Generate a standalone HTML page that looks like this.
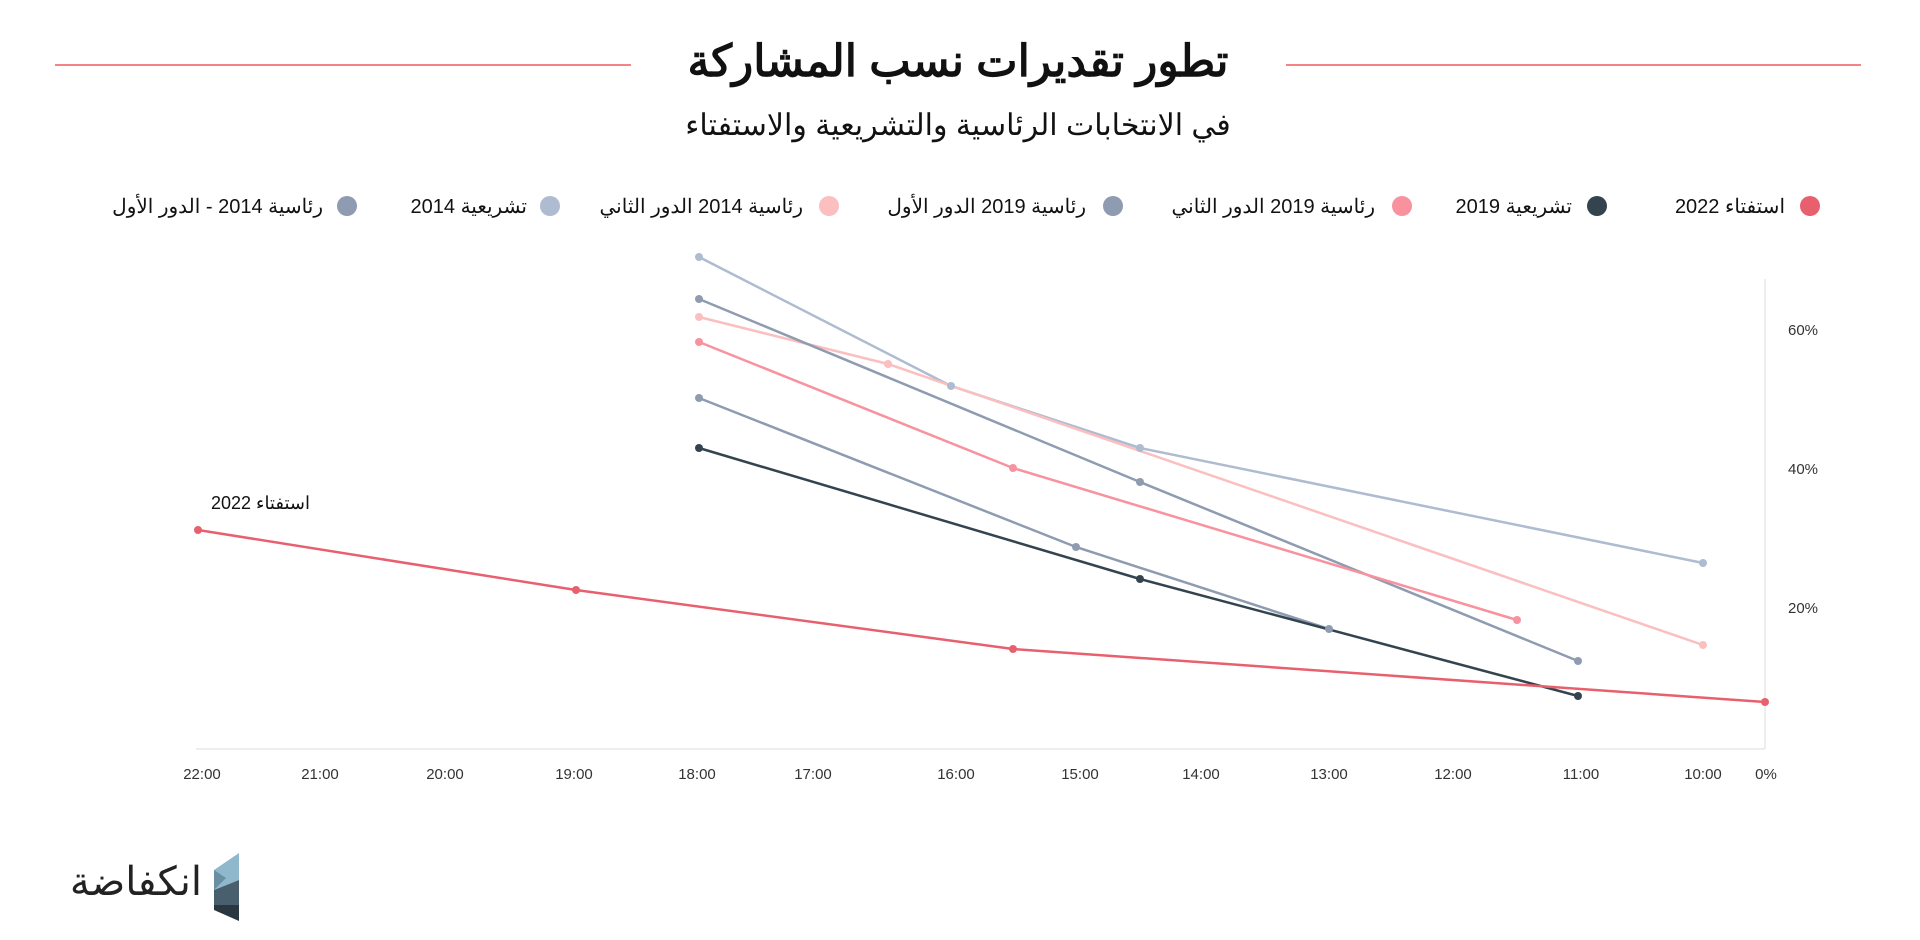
<!DOCTYPE html>
<html><head><meta charset="utf-8"><style>
html,body{margin:0;padding:0;background:#fff;width:1920px;height:940px;overflow:hidden}
svg{display:block}
text{font-family:"Liberation Sans","Noto Sans CJK SC",sans-serif}
</style></head><body>
<svg width="1920" height="940" viewBox="0 0 1920 940" xmlns="http://www.w3.org/2000/svg">
<line x1="55" y1="65" x2="631" y2="65" stroke="#f05a5a" stroke-width="1.5"/>
<line x1="1286" y1="65" x2="1861" y2="65" stroke="#f05a5a" stroke-width="1.5"/>
<text x="958" y="76" text-anchor="middle" font-size="44" font-weight="bold" fill="#111" direction="rtl">تطور تقديرات نسب المشاركة</text>
<text x="958" y="135" text-anchor="middle" font-size="30" fill="#111" direction="rtl">في الانتخابات الرئاسية والتشريعية والاستفتاء</text>
<g font-size="20" fill="#111" text-anchor="start" direction="rtl">
<circle cx="1810" cy="206" r="10" fill="#e8606e"/><text x="1785" y="213">استفتاء 2022</text>
<circle cx="1597" cy="206" r="10" fill="#34444f"/><text x="1572" y="213">تشريعية 2019</text>
<circle cx="1402" cy="206" r="10" fill="#f7929e"/><text x="1375" y="213">رئاسية 2019 الدور الثاني</text>
<circle cx="1113" cy="206" r="10" fill="#8e9bb0"/><text x="1086" y="213">رئاسية 2019 الدور الأول</text>
<circle cx="829" cy="206" r="10" fill="#fbbfc0"/><text x="803" y="213">رئاسية 2014 الدور الثاني</text>
<circle cx="550" cy="206" r="10" fill="#aebbd0"/><text x="527" y="213">تشريعية 2014</text>
<circle cx="347" cy="206" r="10" fill="#8e9bb0"/><text x="323" y="213">رئاسية 2014 - الدور الأول</text>
</g>
<line x1="196" y1="749" x2="1765" y2="749" stroke="#ddd" stroke-width="1"/>
<line x1="1765" y1="279" x2="1765" y2="749" stroke="#ddd" stroke-width="1"/>
<g font-size="15" fill="#333" text-anchor="middle">
<text x="202" y="779">22:00</text><text x="320" y="779">21:00</text><text x="445" y="779">20:00</text>
<text x="574" y="779">19:00</text><text x="697" y="779">18:00</text><text x="813" y="779">17:00</text>
<text x="956" y="779">16:00</text><text x="1080" y="779">15:00</text><text x="1201" y="779">14:00</text>
<text x="1329" y="779">13:00</text><text x="1453" y="779">12:00</text><text x="1581" y="779">11:00</text>
<text x="1703" y="779">10:00</text><text x="1766" y="779">0%</text>
</g>
<g font-size="15" fill="#333">
<text x="1788" y="335">60%</text><text x="1788" y="474">40%</text><text x="1788" y="613">20%</text>
</g>
<g fill="none" stroke-width="2.5">
<polyline stroke="#aebbd0" points="699,257 951,386 1140,448 1703,563"/>
<polyline stroke="#fbbfc0" points="699,317 888,364 1703,645"/>
<polyline stroke="#8e9bb0" points="699,299 1140,482 1578,661"/>
<polyline stroke="#f7929e" points="699,342 1013,468 1517,620"/>
<polyline stroke="#8e9bb0" points="699,398 1076,547 1329,629"/>
<polyline stroke="#34444f" points="699,448 1140,579 1578,696"/>
<polyline stroke="#e8606e" points="198,530 576,590 1013,649 1765,702"/>
</g>
<g>
<g fill="#aebbd0"><circle cx="699" cy="257" r="4"/><circle cx="951" cy="386" r="4"/><circle cx="1140" cy="448" r="4"/><circle cx="1703" cy="563" r="4"/></g>
<g fill="#fbbfc0"><circle cx="699" cy="317" r="4"/><circle cx="888" cy="364" r="4"/><circle cx="1703" cy="645" r="4"/></g>
<g fill="#8e9bb0"><circle cx="699" cy="299" r="4"/><circle cx="1140" cy="482" r="4"/><circle cx="1578" cy="661" r="4"/><circle cx="699" cy="398" r="4"/><circle cx="1076" cy="547" r="4"/><circle cx="1329" cy="629" r="4"/></g>
<g fill="#f7929e"><circle cx="699" cy="342" r="4"/><circle cx="1013" cy="468" r="4"/><circle cx="1517" cy="620" r="4"/></g>
<g fill="#34444f"><circle cx="699" cy="448" r="4"/><circle cx="1140" cy="579" r="4"/><circle cx="1578" cy="696" r="4"/></g>
<g fill="#e8606e"><circle cx="198" cy="530" r="4"/><circle cx="576" cy="590" r="4"/><circle cx="1013" cy="649" r="4"/><circle cx="1765" cy="702" r="4"/></g>
</g>
<text x="310" y="509" font-size="18" fill="#111" text-anchor="start" direction="rtl">استفتاء 2022</text>
<text x="202" y="895" font-size="40" fill="#222" text-anchor="start" direction="rtl">انكفاضة</text>
<g>
<polygon points="214,870 239,853 239,880 214,890" fill="#8fb8cc"/>
<polygon points="214,890 239,880 239,905 214,905" fill="#4a5f6e"/>
<polygon points="214,905 239,905 239,921 214,910" fill="#2a3640"/>
<polygon points="214,870 226,878 214,890" fill="#6a8fa3"/>
</g>
</svg>
</body></html>
